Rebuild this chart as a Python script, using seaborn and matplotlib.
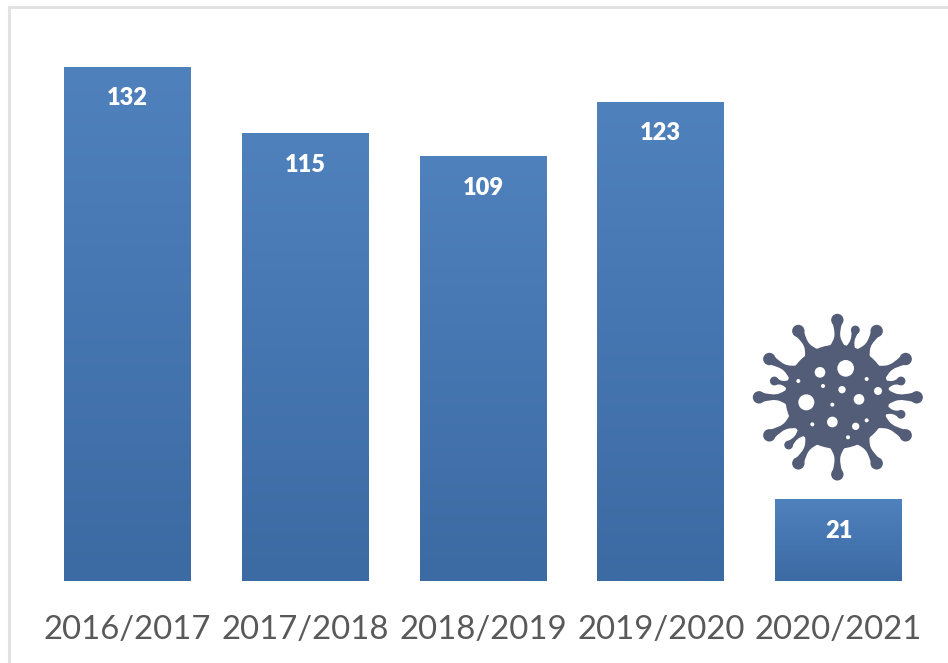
import numpy as np
import pandas as pd
import seaborn as sns
from matplotlib import pyplot as plt
from matplotlib.colors import LinearSegmentedColormap
from matplotlib.patches import Circle, PathPatch
from matplotlib.path import Path

seasons = ["2016/2017", "2017/2018", "2018/2019", "2019/2020", "2020/2021"]
counts = [132, 115, 109, 123, 21]

W, H = 948, 663
sns.set_theme(style="white")
plt.rcParams["font.family"] = ["Lato", "DejaVu Sans"]

fig = plt.figure(figsize=(W / 100, H / 100), dpi=100)
ax = fig.add_axes([38.6 / W, 1 - 581 / H, 888.8 / W, 545.1 / H])

df = pd.DataFrame({"season": seasons, "count": counts})
sns.barplot(data=df, x="season", y="count", width=0.714, color="#4F81BD", ax=ax)

# vertical gradient on every bar
grad = LinearSegmentedColormap.from_list("bar", ["#3C6AA3", "#4F81BD"])
ramp = np.linspace(0, 1, 256).reshape(-1, 1)
for bar in ax.patches:
    x0, w, h = bar.get_x(), bar.get_width(), bar.get_height()
    bar.set_visible(False)
    ax.imshow(ramp, cmap=grad, origin="lower", aspect="auto",
              extent=[x0, x0 + w, 0, h], zorder=2)
    ax.annotate(str(int(h)), (x0 + w / 2, h), xytext=(0, -22.6), textcoords="offset points",
                ha="center", va="center", color="white", fontsize=17, fontweight="heavy", zorder=3)
ax.set_xlim(-0.5, 4.5)
ax.set_ylim(0, 140)

ax.set_xlabel("")
ax.set_ylabel("")
ax.set_yticks([])
ax.tick_params(axis="x", length=0, pad=24.5, labelsize=23.7, labelcolor="#595959")
sns.despine(ax=ax, left=True, bottom=True, top=True, right=True)
ax.patch.set_alpha(0)

# overlay in pixels for the chart frame and the virus icon
deco = fig.add_axes([0, 0, 1, 1], zorder=5)
deco.set_xlim(0, W)
deco.set_ylim(H, 0)
deco.axis("off")
deco.plot([9, 9], [H, 7], color="#E2E2E2", lw=2.2)
deco.plot([9, 948], [7, 7], color="#E2E2E2", lw=2.2)

ICON = "#535D78"
cx, cy = 837.3, 396.7

def zoomed(x, y):
    return 740 + x / 3, 300 + y / 3

big_spikes = [(292, 60), (410, 93), (497, 177), (530, 292), (497, 406), (410, 490),
              (292, 523), (175, 490), (88, 406), (57, 292), (88, 177), (175, 93)]
small_spikes = [(346, 90), (483, 243), (483, 343), (146, 435), (103, 243)]
holes = [(317, 205, 25), (240, 217, 16), (175, 243, 6), (249, 258, 6), (306, 269, 11),
         (380, 237, 6), (414, 273, 12), (357, 298, 16), (199, 307, 24), (277, 314, 6),
         (277, 366, 16), (217, 373, 6), (347, 379, 11), (380, 361, 6), (324, 412, 6)]

def spike(px, py, r, neck, base):
    d = np.array([px - cx, py - cy])
    length = np.hypot(*d)
    d = d / length
    n = np.array([-d[1], d[0]])
    c = np.array([cx, cy])
    tip = np.array([px, py])
    foot = c + d * 50
    elbow = c + d * (52 + (length - 52) * 0.28)
    a = foot + n * base
    b = tip - d * r * 0.5 + n * r * 0.75
    e = tip - d * r * 0.5 - n * r * 0.75
    f = foot - n * base
    verts = [a, elbow + n * neck, elbow + d * 3 + n * neck, b,
             e, elbow + d * 3 - n * neck, elbow - n * neck, f, a]
    codes = [Path.MOVETO, Path.CURVE4, Path.CURVE4, Path.CURVE4,
             Path.LINETO, Path.CURVE4, Path.CURVE4, Path.CURVE4, Path.CLOSEPOLY]
    deco.add_patch(PathPatch(Path(verts, codes), fc=ICON, ec="none"))
    deco.add_patch(Circle((px, py), r, fc=ICON, ec="none"))

deco.add_patch(Circle((cx, cy), 52, fc=ICON, ec="none"))
for x, y in big_spikes:
    spike(*zoomed(x, y), 6.2, 1.8, 8)
for x, y in small_spikes:
    spike(*zoomed(x, y), 4.4, 1.4, 5)
for x, y, r in holes:
    deco.add_patch(Circle(zoomed(x, y), r / 3, fc="white", ec="none"))

plt.savefig("out.png", dpi=100)
